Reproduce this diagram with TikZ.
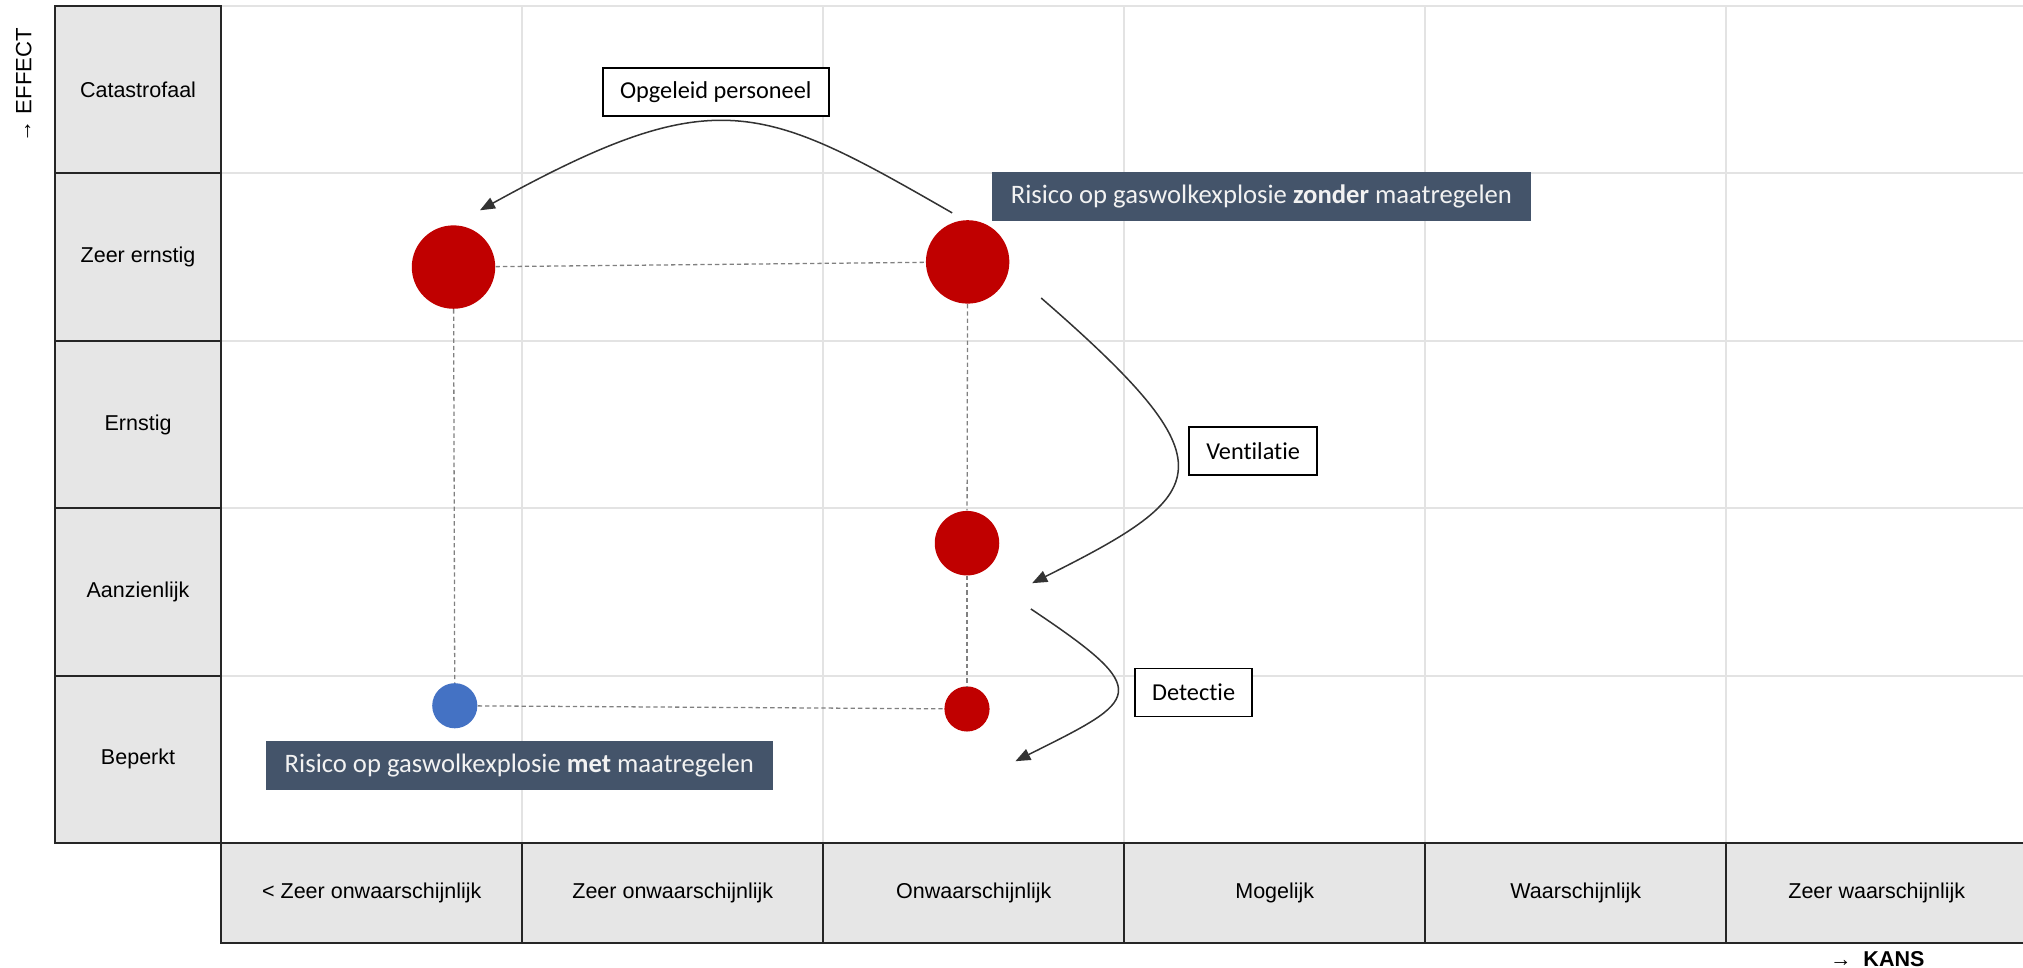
\documentclass[tikz,border=0pt]{standalone}
\usepackage{fontspec}
\setmainfont{Liberation Sans}
\newfontfamily\calibri[Ligatures=NoCommon]{Carlito}
\usetikzlibrary{arrows.meta}

\definecolor{riskred}{HTML}{C00000}
\definecolor{riskblue}{HTML}{4472C4}
\definecolor{slate}{HTML}{44546A}
\definecolor{cellgray}{HTML}{E6E6E6}
\definecolor{gridgray}{HTML}{E3E3E3}

\begin{document}
\begin{tikzpicture}[x=0.6pt,y=0.6pt,yscale=-1,xscale=1,
		cell/.style={draw=black!85, line width=0.9pt, fill=cellgray, inner sep=0pt, font=\fontsize{10}{12}\selectfont},
		rowcell/.style={cell, minimum width=77.1pt, minimum height=77.9pt},
		colcell/.style={cell, minimum width=140pt, minimum height=46.6pt},
		riskdot/.style={circle, inner sep=0pt, fill=riskred},
		guide/.style={draw=black!50, dash pattern=on 2pt off 1.4pt, line width=0.6pt},
		flow/.style={draw=black!80, line width=0.7pt, -{Triangle[length=7pt,width=5.5pt]}},
		tag/.style={draw=black, line width=0.8pt, fill=white, inner xsep=8pt, minimum height=22.3pt, anchor=west, font=\calibri\fontsize{11.3}{13}\selectfont},
		banner/.style={fill=slate, text=white!95!black, inner xsep=8.8pt, minimum height=23pt, anchor=west, font=\calibri\fontsize{12.4}{14}\selectfont}]
		\useasboundingbox (0,0) rectangle (1568,750);

		% Light grid of the matrix
		\foreach \gx in {404.8,638.1,871.4,1104.7,1338}
			\draw[gridgray, line width=0.9pt] (\gx,4.5) -- (\gx,653.5);
		\foreach \gy in {4.5,134.3,264.1,393.9,523.7}
			\draw[gridgray, line width=0.9pt] (171.5,\gy) -- (1568,\gy);

		% Effect classes (left column)
		\foreach \lbl [count=\i] in {Catastrofaal,Zeer ernstig,Ernstig,Aanzienlijk,Beperkt}
			\node (effect\i) [rowcell] at (107,{4.5+129.8*(\i-0.5)}) {\lbl};

		% Probability classes (bottom row)
		\foreach \lbl [count=\i] in {{< Zeer onwaarschijnlijk},Zeer onwaarschijnlijk,Onwaarschijnlijk,Mogelijk,Waarschijnlijk,Zeer waarschijnlijk}
			\node (kans\i) [colcell] at ({171.5+233.3*(\i-0.5)},692.4) {\lbl};

		% Axis names
		\node (effectaxis) [rotate=90, font=\fontsize{10.3}{12}\selectfont] at (18.5,66) {→ EFFECT};
		\node (kansaxis) [font=\fontsize{10}{12}\selectfont\bfseries] at (1455,743) {→~~KANS};

		% Risk dots
		\node (links) [riskdot, minimum size=38.8pt] at (351.5,207) {};
		\node (zonder) [riskdot, minimum size=38.8pt] at (750,203) {};
		\node (venti) [riskdot, minimum size=30pt] at (749.5,421) {};
		\node (detec) [riskdot, minimum size=21pt] at (749.5,549.5) {};
		\node (met) [riskdot, fill=riskblue, minimum size=21pt] at (352.5,547) {};

		% Dashed guides between the dots
		\draw[guide] (links) -- (zonder);
		\draw[guide] (links) -- (met);
		\draw[guide] (met) -- (detec);
		\draw[guide] (zonder) -- (venti);
		\draw[guide] (venti) -- (detec);

		% Measure arrows
		\coordinate (opg-start) at (738,165);
		\coordinate (opg-end) at (372,163);
		\coordinate (ven-start) at (807,231);
		\coordinate (ven-end) at (800,452);
		\coordinate (det-start) at (799,472);
		\coordinate (det-end) at (787,590);
		\draw[flow] (opg-start) .. controls (590,80) and (555,62) .. (opg-end);
		\draw[flow] (ven-start) .. controls (956.5,361) and (940,382) .. (ven-end);
		\draw[flow] (det-start) .. controls (896.5,537) and (883,542) .. (det-end);

		% Measure labels
		\node (opgeleid) [tag] at (466.6,71.1) {Opgeleid personeel};
		\node (ventilatie) [tag] at (921,349.8) {Ventilatie};
		\node (detectie) [tag] at (879,536.7) {Detectie};

		% Risk banners
		\node (zonderlabel) [banner] at (768.5,152.2) {Risico op gaswolkexplosie \textbf{zonder} maatregelen};
		\node (metlabel) [banner] at (205.7,593.2) {Risico op gaswolkexplosie \textbf{met} maatregelen};
	\end{tikzpicture}
\end{document}
